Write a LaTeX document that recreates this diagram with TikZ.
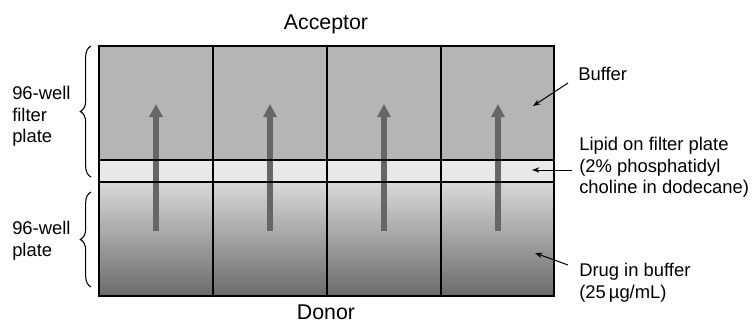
\documentclass[tikz,border=0pt]{standalone}
\usepackage{fontspec}
\setmainfont{Liberation Sans}
\usetikzlibrary{decorations.pathreplacing,arrows.meta}

\begin{document}
\begin{tikzpicture}[x=0.75pt,y=-0.75pt,
  lbl/.style={font=\fontsize{13.8}{16.1}\selectfont,align=left,inner sep=0pt},
  ttl/.style={font=\fontsize{16}{19}\selectfont,inner sep=0pt},
  flow/.style={line width=4.5pt,draw=black!60,-{Triangle[width=9.75pt,length=9.75pt]}},
  pointer/.style={line width=0.75pt,-{Stealth[length=5.5pt,width=4pt]}},
  brc/.style={decorate,decoration={brace,amplitude=8pt},line width=0.8pt}]
\useasboundingbox (0,0) rectangle (753,326);

% acceptor, lipid and donor layers
\fill[black!29] (99,46) rectangle (554,160);
\fill[black!9] (99,160) rectangle (554,182);
\shade[top color=black!15,middle color=black!27,bottom color=black!58] (99,182) rectangle (554,296);

\foreach \x [count=\n] in {156,270,384,498} {
  \coordinate (lo\n) at (\x,231);
  \coordinate (hi\n) at (\x,104);
  \draw[flow] (lo\n) -- (hi\n);
}
\foreach \x in {213,327,441}
  \draw[line width=1.2pt] (\x,46) -- (\x,296);
\draw[line width=1pt] (99,160) -- (554,160) (99,182) -- (554,182);
\draw[line width=1.2pt] (99,46) rectangle (554,296);

\node[ttl,anchor=base] (acc) at (326,29) {Acceptor};
\node[ttl,anchor=base] (don) at (326,319) {Donor};

% plates on the left
\coordinate (fb) at (91,177);
\coordinate (ft) at (91,46);
\draw[brc] (fb) -- (ft);
\node[lbl,anchor=north west] (filt) at (12,86) {96-well\\filter\\plate};
\coordinate (wb) at (91,287);
\coordinate (wt) at (91,192);
\draw[brc] (wb) -- (wt);
\node[lbl,anchor=north west] (well) at (12,221) {96-well\\plate};

% contents on the right
\node[lbl,anchor=north west] (buf) at (578,67) {Buffer};
\node[lbl,anchor=north west] (lip) at (579,137) {Lipid on filter plate\\(2\% phosphatidyl\\choline in dodecane)};
\node[lbl,anchor=north west] (drug) at (579,263) {Drug in buffer\\(25\,µg/mL)};
\coordinate (bufs) at (568,83);
\coordinate (bufe) at (533,106);
\coordinate (lips) at (572,170);
\coordinate (lipe) at (532,170);
\coordinate (drugs) at (568,265);
\coordinate (druge) at (535,253);
\draw[pointer] (bufs) -- (bufe);
\draw[pointer] (lips) -- (lipe);
\draw[pointer] (drugs) -- (druge);
\end{tikzpicture}
\end{document}
